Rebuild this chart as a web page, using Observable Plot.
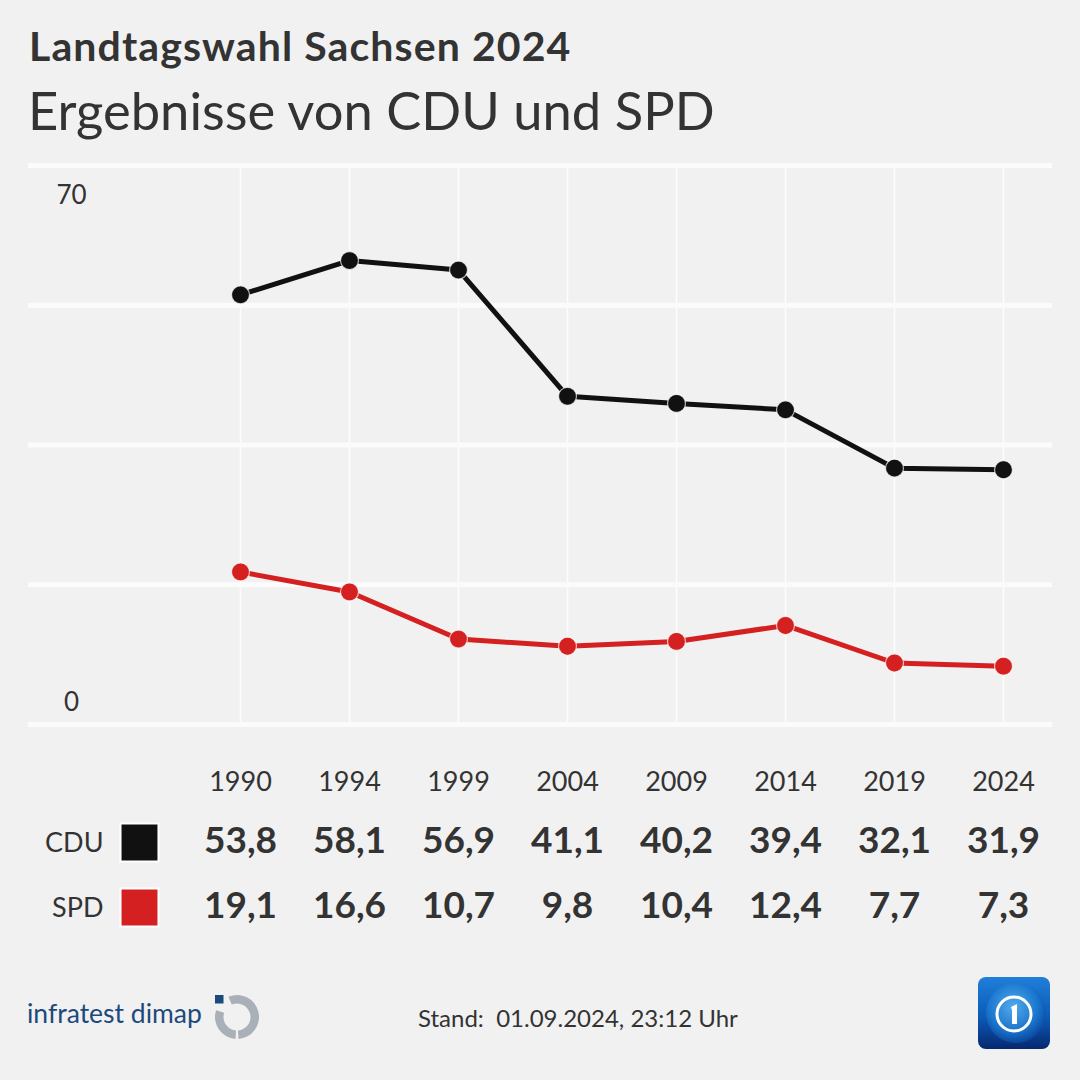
<!DOCTYPE html>
<html><head><meta charset="utf-8">
<script src="https://cdn.jsdelivr.net/npm/d3@7"></script>
<script src="https://cdn.jsdelivr.net/npm/@observablehq/plot@0.6"></script>
<style>
html,body{margin:0;padding:0;background:#f1f1f1;}
#root{position:relative;width:1080px;height:1080px;background:#f1f1f1;font-family:Lato,"Open Sans",sans-serif;color:#333;overflow:hidden}
#title{position:absolute;left:29px;top:25px;font-size:41px;line-height:41px;font-weight:700;letter-spacing:1.1px;white-space:nowrap;}
#subtitle{position:absolute;left:28px;top:84px;font-size:52.5px;line-height:52px;font-weight:400;white-space:nowrap;}
#chart{position:absolute;left:0;top:140px;}
#source{position:absolute;left:27px;top:1000px;font-size:26.5px;line-height:27px;color:#1c4a7c;white-space:nowrap;}
#stand{position:absolute;left:418px;top:1005px;font-size:24px;line-height:25px;color:#333;white-space:nowrap;}
#idlogo{position:absolute;left:205px;top:990px;}
#tslogo{position:absolute;left:978px;top:977px;}
</style></head>
<body>
<div id="root">
  <div id="title">Landtagswahl Sachsen 2024</div>
  <div id="subtitle">Ergebnisse von CDU und SPD</div>
  <div id="chart"></div>
  <div id="source">infratest dimap</div>
  <svg id="idlogo" width="60" height="56"></svg>
  <div id="stand">Stand:&nbsp; 01.09.2024, 23:12 Uhr</div>
  <svg id="tslogo" width="72" height="72" viewBox="0 0 72 72">
    <defs>
      <linearGradient id="tsg" x1="0" y1="0" x2="0" y2="1">
        <stop offset="0" stop-color="#1f7fd8"/>
        <stop offset="0.55" stop-color="#0c5bb8"/>
        <stop offset="1" stop-color="#06286e"/>
      </linearGradient>
      <radialGradient id="globe" cx="0.45" cy="0.4" r="0.6">
        <stop offset="0" stop-color="#5fb6f2"/>
        <stop offset="0.7" stop-color="#1a78d0"/>
        <stop offset="1" stop-color="#0b4aa0"/>
      </radialGradient>
    </defs>
    <rect x="0" y="0" width="72" height="72" rx="8" fill="url(#tsg)"/>
    <circle cx="38" cy="36" r="30" fill="url(#globe)" opacity="0.85"/>
    <circle cx="36" cy="37" r="17" fill="none" stroke="#ffffff" stroke-width="3"/>
    <path d="M33 30 L39 27 L39 47 L34 47 L34 33 Z" fill="#ffffff"/>
  </svg>
</div>
<script>
// ---- data ----
const years = ["1990","1994","1999","2004","2009","2014","2019","2024"];
const cdu = [53.8, 58.1, 56.9, 41.1, 40.2, 39.4, 32.1, 31.9];
const spd = [19.1, 16.6, 10.7, 9.8, 10.4, 12.4, 7.7, 7.3];
const parties = ["CDU", "SPD"];
const partyColors = ["#111111", "#d42020"];
const yGrid = [0, 17.5, 35, 52.5, 70];
const yLabelTop = [70];
const yLabelBottom = [0];

const series = [cdu, spd];
const rows = parties.flatMap((p, i) => years.map((y, j) => ({party: p, year: y, value: series[i][j]})));
const fmt = v => v.toFixed(1).replace(".", ",");
const font = "Lato, 'Open Sans', sans-serif";

const chart = Plot.plot({
  width: 1080,
  height: 820,
  marginTop: 25,
  marginBottom: 236,
  marginLeft: 28,
  marginRight: 28,
  style: {background: "transparent", fontFamily: font, color: "#333", overflow: "visible"},
  x: {type: "point", domain: years, padding: 1.17, align: 0.813, axis: null},
  y: {domain: [0, 70], axis: null},
  color: {domain: parties, range: partyColors},
  marks: [
    Plot.ruleX(years, {x: d => d, stroke: "#ffffff", strokeWidth: 1.5, strokeOpacity: 0.85}),
    Plot.ruleY(yGrid, {y: d => d, stroke: "#fbfbfb", strokeWidth: 5}),
    Plot.text(yLabelTop, {y: d => d, text: d => String(d), frameAnchor: "left", textAnchor: "middle", dx: 43, dy: 30, fontSize: 26, fill: "#333"}),
    Plot.text(yLabelBottom, {y: d => d, text: d => String(d), frameAnchor: "left", textAnchor: "middle", dx: 43, dy: -22, fontSize: 26, fill: "#333"}),
    Plot.line(rows, {x: "year", y: "value", z: "party", stroke: "party", strokeWidth: 5}),
    Plot.dot(rows, {x: "year", y: "value", fill: "party", r: 9, stroke: "#ffffff", strokeWidth: 1.2, strokeOpacity: 0.7}),
    // year labels
    Plot.text(years, {x: d => d, text: d => d, frameAnchor: "bottom", dy: 66, fontSize: 27, fill: "#333"}),
    // table rows
    Plot.text(rows.filter(d => d.party === parties[0]), {x: "year", text: d => fmt(d.value), frameAnchor: "bottom", dy: 128, fontSize: 37, fontWeight: 700, fill: "#333"}),
    Plot.text(rows.filter(d => d.party === parties[1]), {x: "year", text: d => fmt(d.value), frameAnchor: "bottom", dy: 193, fontSize: 37, fontWeight: 700, fill: "#333"}),
    Plot.text([parties[0]], {text: d => d, frameAnchor: "bottom-left", dx: 75, dy: 127, textAnchor: "end", fontSize: 27, fill: "#333"}),
    Plot.text([parties[1]], {text: d => d, frameAnchor: "bottom-left", dx: 75, dy: 192, textAnchor: "end", fontSize: 27, fill: "#333"}),
    Plot.dot([parties[0]], {frameAnchor: "bottom-left", dx: 111, dy: 118, symbol: "square", r: 21.4, fill: partyColors[0], stroke: "#ffffff", strokeWidth: 2}),
    Plot.dot([parties[1]], {frameAnchor: "bottom-left", dx: 111, dy: 183, symbol: "square", r: 21.4, fill: partyColors[1], stroke: "#ffffff", strokeWidth: 2})
  ]
});
document.getElementById("chart").appendChild(chart);

// infratest dimap logo
const idsvg = d3.select("#idlogo");
const g = idsvg.append("g").attr("transform", "translate(32,27)");
const arc = d3.arc().innerRadius(13.5).outerRadius(22);
g.append("path").attr("d", arc({startAngle: -0.4, endAngle: Math.PI - 0.07})).attr("fill", "#a9b0b7");
g.append("path").attr("d", arc({startAngle: Math.PI + 0.07, endAngle: Math.PI * 1.6})).attr("fill", "#a9b0b7");
idsvg.append("rect").attr("x", 10).attr("y", 5).attr("width", 8.5).attr("height", 8.5).attr("fill", "#1c4a7c");
</script>
</body></html>
